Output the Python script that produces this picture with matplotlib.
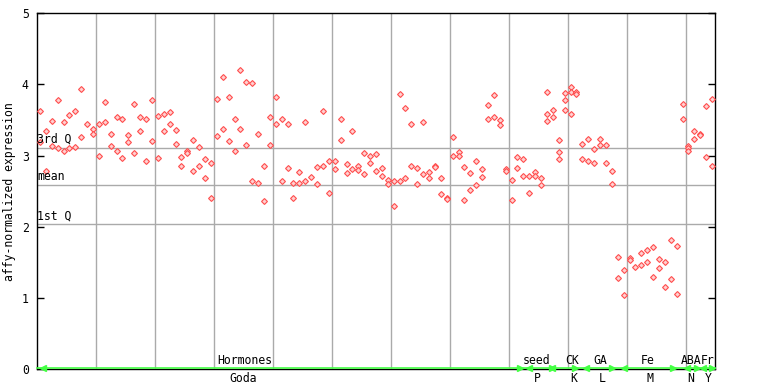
import matplotlib
matplotlib.use('Agg')
import matplotlib.pyplot as plt
import numpy as np

# expression values per sample (replicates)
goda = [
    [3.62, 3.19], [3.34, 2.78], [3.48, 3.13], [3.78, 3.10], [3.47, 3.07],
    [3.57, 3.10], [3.62, 3.12], [3.93, 3.26], [3.45], [3.38, 3.30],
    [3.44, 2.99], [3.75, 3.47], [3.31, 3.13], [3.54, 3.06], [3.52, 2.96],
    [3.29, 3.19], [3.72, 3.03], [3.54, 3.34], [3.52, 2.93], [3.78, 3.20],
    [3.55, 2.96], [3.58, 3.34], [3.61, 3.44], [3.36, 3.16], [2.98, 2.85],
    [3.06, 3.03], [3.22, 2.78], [3.12, 2.86], [2.95, 2.68], [2.89, 2.41],
    [3.79, 3.27], [4.10, 3.38], [3.83, 3.20], [3.52, 3.06], [4.21, 3.37],
    [4.03, 3.15], [4.02, 2.64], [3.30, 2.62], [2.85, 2.36], [3.54, 3.15],
    [3.83, 3.45], [3.52, 2.64], [3.44, 2.82], [2.61, 2.41], [2.77, 2.62],
    [3.47, 2.64], [2.70], [2.84, 2.60], [3.62, 2.85], [2.93, 2.48],
    [2.93, 2.81], [3.52, 3.22], [2.88, 2.75], [3.34, 2.81], [2.85, 2.80],
    [3.03, 2.74], [2.99, 2.89], [3.02, 2.78], [2.82, 2.71], [2.65, 2.60],
    [2.64, 2.29], [3.86, 2.64], [3.67, 2.68], [3.45, 2.86], [2.82, 2.60],
    [3.47, 2.74], [2.77, 2.68], [2.86, 2.84], [2.68, 2.46], [2.41, 2.39],
    [3.26, 3.00], [3.05, 2.99], [2.84, 2.37], [2.75, 2.51], [2.93, 2.58],
    [2.81, 2.70], [3.71, 3.51], [3.85, 3.54], [3.50, 3.43], [2.81, 2.78],
]
seed = [
    [2.65, 2.37], [2.98, 2.82], [2.95, 2.71], [2.71, 2.48], [2.77, 2.71],
    [2.68, 2.58], [3.90, 3.58, 3.48], [3.64, 3.54],
]
ck = [[3.22, 3.05, 2.95], [3.88, 3.78, 3.64], [3.96, 3.89, 3.58], [3.90, 3.86]]
ga = [[3.16, 2.95], [3.24, 2.93], [3.09, 2.89], [3.23, 3.15], [3.15, 2.89], [2.78, 2.60]]
fe = [
    [1.57, 1.28], [1.39, 1.04], [1.56, 1.53], [1.43], [1.63, 1.46],
    [1.67, 1.51], [1.71, 1.29], [1.54, 1.42], [1.51, 1.15], [1.81, 1.26],
    [1.73, 1.06],
]
aba = [[3.72, 3.52], [3.14, 3.11, 3.07], [3.34, 3.24], [3.31, 3.29]]
fr = [[3.69, 2.98], [3.79, 2.85]]

upper_labels = ['Hormones', 'seed', 'CK', 'GA', 'Fe', 'ABA', 'Fr']
upper_pos = [34.7, 84.2, 90.2, 95.1, 103.1, 110.4, 113.2]
lower_labels = ['Goda', 'P', 'K', 'L', 'M', 'N', 'Y']
lower_pos = [34.4, 84.4, 90.5, 95.4, 103.4, 110.3, 113.4]
# spans of the green experiment bars (sample index)
spans = [(0.5, 81.4), (83.0, 86.8), (86.8, 90.7), (92.7, 97.0), (99.1, 107.3), (109.8, 111.5), (112.5, 114.0)]

q3, mean, q1 = 3.107, 2.583, 2.034

cols = goda + seed + ck + ga + fe + aba + fr
xs, ys = [], []
for i, reps in enumerate(cols):
    for v in reps:
        xs.append(i)
        ys.append(v)

mono = 'DejaVu Sans Mono'
fs = 8.3

fig = plt.figure(figsize=(7.68, 3.84), dpi=100)
ax = fig.add_axes([37 / 768, 15 / 384, 678 / 768, 355.7 / 384])

n = len(cols)
ax.set_xlim(-0.5, n - 0.5)
ax.set_ylim(0, 5)

for gx in np.arange(9.5, n - 1, 10):
    ax.axvline(gx, color='#aaaaaa', lw=1, zorder=1)
for h, lab in [(q3, '3rd Q'), (mean, 'mean'), (q1, '1st Q')]:
    ax.axhline(h, color='#aaaaaa', lw=1, zorder=1)
    ax.text(-0.5, h + 0.03, lab, family=mono, fontsize=fs, ha='left', va='bottom', zorder=4)

ax.plot(xs, ys, ls='none', marker='D', ms=3.0, mfc='#ffd0d0', mec='#ff4d4d', mew=0.8, zorder=3)

# green experiment bar along zero
ax.plot([-0.5, n - 0.5], [0.012, 0.012], color='#44ff44', lw=1.2, zorder=5, clip_on=False)
for a, b in spans:
    ax.plot([a], [0.012], marker='<', color='#44ff44', ms=5, zorder=6, clip_on=False)
    ax.plot([b], [0.012], marker='>', color='#44ff44', ms=5, zorder=6, clip_on=False)

for lab, p in zip(upper_labels, upper_pos):
    ax.text(p, 0.03, lab, family=mono, fontsize=fs, ha='center', va='bottom', zorder=7)
for lab, p in zip(lower_labels, lower_pos):
    ax.text(p, -0.04, lab, family=mono, fontsize=fs, ha='center', va='top', zorder=7)

ax.set_xticks([])
ax.set_yticks([0, 1, 2, 3, 4, 5])
ax.set_yticklabels(['0', '1', '2', '3', '4', '5'], family=mono, fontsize=fs)
ax.tick_params(axis='y', direction='in', length=5, width=1, right=True, pad=6)
ax.set_ylabel('affy-normalized expression', family=mono, fontsize=fs, labelpad=4)
for s in ax.spines.values():
    s.set_color('black')
    s.set_linewidth(1)

fig.savefig('out.png', dpi=100)
